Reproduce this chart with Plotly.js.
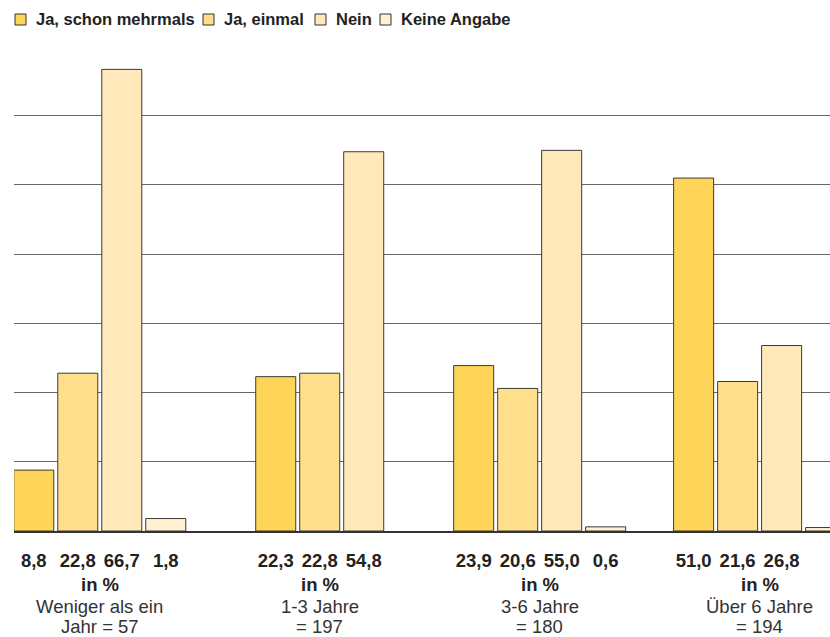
<!DOCTYPE html>
<html>
<head>
<meta charset="utf-8">
<script src="https://cdn.plot.ly/plotly-3.0.1.min.js"></script>
<style>body{margin:0;background:#fff}#chart{width:830px;height:637px}</style>
</head>
<body>
<div id="chart"></div>
<script>
// ---- data ----
var seriesNames = ["Ja, schon mehrmals", "Ja, einmal", "Nein", "Keine Angabe"];
var groupNameLine1 = ["Weniger als ein", "1-3 Jahre", "3-6 Jahre", "Über 6 Jahre"];
var groupNameLine2 = ["Jahr = 57", "= 197", "= 180", "= 194"];
var jaMehrmals  = [8.8, 22.3, 23.9, 51.0];
var jaEinmal    = [22.8, 22.8, 20.6, 21.6];
var nein        = [66.7, 54.8, 55.0, 26.8];
var keineAngabe = [1.8, null, 0.6, 0.5];
var unitLabel = "in %";

// ---- build ----
var FONT = "Liberation Sans, Arial, sans-serif";
var series = [jaMehrmals, jaEinmal, nein, keineAngabe];
var colors = ["#FFD559", "#FFDF8B", "#FFE9BA", "#FFF1D2"];
var groupStep = 5, groupStart = 2;
var xs = series.map(function(){ return []; });
var tickvals = [], ticktext = [];
function fmt(v){ return v.toFixed(1).replace(".", ","); }
for (var g = 0; g < groupNameLine1.length; g++) {
  var present = [];
  for (var s = 0; s < series.length; s++) if (series[s][g] !== null) present.push(s);
  var center = groupStart + groupStep * g;
  present.forEach(function(s, i){
    var x = center + (i - (present.length - 1) / 2);
    xs[s][g] = x;
    tickvals.push(x);
    ticktext.push("<b>" + fmt(series[s][g]) + "</b>");
  });
  for (var s2 = 0; s2 < series.length; s2++) if (series[s2][g] === null) xs[s2][g] = null;
}
var traces = series.map(function(vals, s){
  return {
    type: "bar", name: seriesNames[s], x: xs[s], y: vals, width: 0.91,
    marker: {color: colors[s], line: {color: "#3a3a3a", width: 1}},
    hoverinfo: "skip", showlegend: false
  };
});

// plot area geometry (for placing the hand-drawn legend in paper coordinates)
var W = 830, H = 637, ML = 14, MR = 0, MT = 50, MB = 106;
var PW = W - ML - MR, PH = H - MT - MB;
function px2x(px){ return (px - ML) / PW; }
function py2y(py){ return (H - MB - py) / PH; }

var annotations = [], shapes = [];
for (var g2 = 0; g2 < groupNameLine1.length; g2++) {
  var c = groupStart + groupStep * g2;
  annotations.push({x: c, y: 0, xref: "x", yref: "y", yanchor: "middle", yshift: -53, showarrow: false,
    text: "<b>" + unitLabel + "</b>", font: {size: 18.5, color: "#222", family: FONT}});
  annotations.push({x: c, y: 0, xref: "x", yref: "y", yanchor: "middle", yshift: -75, showarrow: false,
    text: groupNameLine1[g2], font: {size: 18.5, color: "#333", family: FONT}});
  annotations.push({x: c, y: 0, xref: "x", yref: "y", yanchor: "middle", yshift: -95, showarrow: false,
    text: groupNameLine2[g2], font: {size: 18.5, color: "#333", family: FONT}});
}

// legend (squares + bold labels), laid out left to right
var legendSquareLeft = [15, 203, 315, 380];
for (var k = 0; k < seriesNames.length; k++) {
  var x0 = legendSquareLeft[k];
  shapes.push({type: "rect", xref: "paper", yref: "paper", x0: px2x(x0), x1: px2x(x0 + 11),
    y0: py2y(25), y1: py2y(14), fillcolor: colors[k], line: {color: "#333", width: 1}});
  annotations.push({x: px2x(x0 + 19), y: py2y(19.5), xref: "paper", yref: "paper", xanchor: "left", yanchor: "middle",
    showarrow: false, text: "<b>" + seriesNames[k] + "</b>", font: {size: 16.5, color: "#222", family: FONT}});
}

var layout = {
  width: W, height: H,
  margin: {l: ML, r: MR, t: MT, b: MB, pad: 0},
  paper_bgcolor: "#fff", plot_bgcolor: "#fff",
  barmode: "overlay",
  showlegend: false,
  xaxis: {range: [0.05, 18.6], tickvals: tickvals, ticktext: ticktext, ticks: "", showgrid: false, zeroline: false,
    showline: true, linecolor: "#333", linewidth: 2, ticklabelstandoff: 12,
    tickfont: {size: 18.5, color: "#222", family: FONT}, fixedrange: true},
  yaxis: {range: [0, 69.5], dtick: 10, showticklabels: false, ticks: "", showgrid: true, gridcolor: "#666", gridwidth: 1,
    zeroline: false, fixedrange: true},
  annotations: annotations,
  shapes: shapes
};
Plotly.newPlot("chart", traces, layout, {displayModeBar: false, staticPlot: true});
</script>
</body>
</html>
